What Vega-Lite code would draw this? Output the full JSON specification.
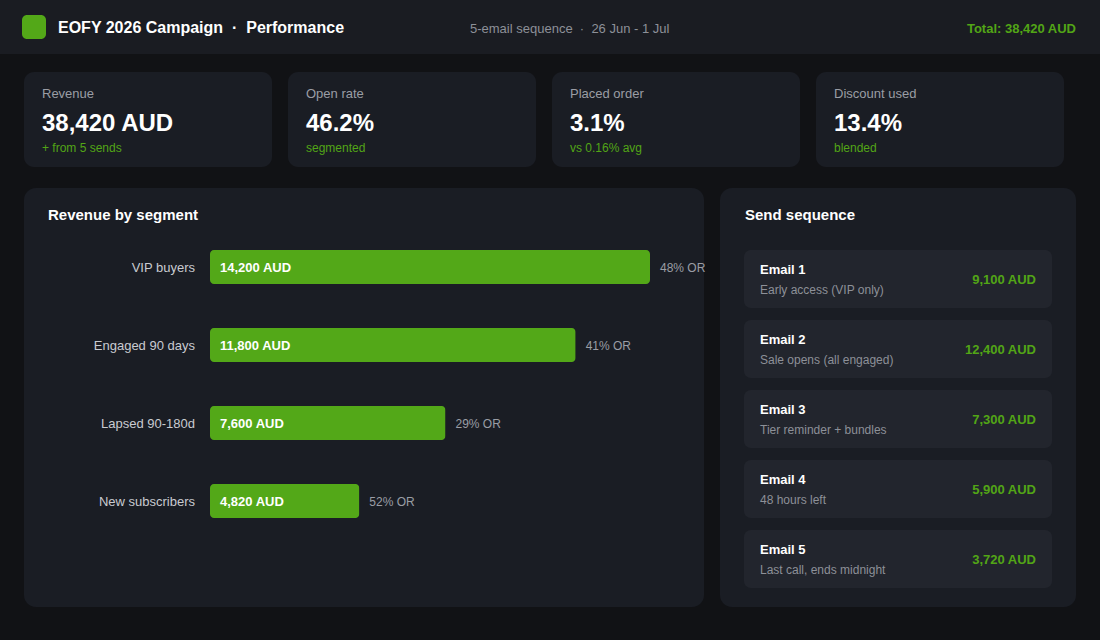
{
  "$schema": "https://vega.github.io/schema/vega-lite/v6.json",
  "background": "#111215",
  "padding": {"left": 0, "top": 0, "right": 0, "bottom": 33},
  "config": {
    "font": "Liberation Sans",
    "view": {"stroke": null}
  },
  "spacing": 18,
  "vconcat": [
    {
      "width": 1100,
      "height": 54,
      "view": {"fill": "#1a1c22", "stroke": null},
      "data": {"values": [{"title": "EOFY 2026 Campaign\u00a0\u00a0·\u00a0\u00a0Performance", "period": "5-email sequence\u00a0\u00a0·\u00a0\u00a026 Jun - 1 Jul", "total": "Total: 38,420 AUD"}]},
      "layer": [
        {
          "mark": {"type": "rect", "color": "#53a818", "cornerRadius": 5},
          "encoding": {"x": {"value": 22}, "x2": {"value": 46}, "y": {"value": 15}, "y2": {"value": 39}}
        },
        {
          "mark": {"type": "text", "align": "left", "baseline": "alphabetic", "fontSize": 16, "fontWeight": "bold", "color": "#ffffff"},
          "encoding": {"x": {"value": 58}, "y": {"value": 33}, "text": {"field": "title"}}
        },
        {
          "mark": {"type": "text", "align": "left", "baseline": "alphabetic", "fontSize": 13, "color": "#8d9098"},
          "encoding": {"x": {"value": 470}, "y": {"value": 33}, "text": {"field": "period"}}
        },
        {
          "mark": {"type": "text", "align": "right", "baseline": "alphabetic", "fontSize": 13, "fontWeight": "bold", "color": "#52a516"},
          "encoding": {"x": {"value": 1076}, "y": {"value": 33}, "text": {"field": "total"}}
        }
      ]
    },
    {
      "spacing": 21,
      "vconcat": [
        {
          "spacing": 16,
          "hconcat": [
            {"width": 8, "height": 1, "data": {"values": []}, "mark": "point", "encoding": {}},
            {
              "width": 248,
              "height": 95,
              "view": {"fill": "#1a1d24", "cornerRadius": 10, "stroke": null},
              "data": {"values": [{"label": "Revenue", "value": "38,420 AUD", "note": "+ from 5 sends"}]},
              "layer": [
                {"mark": {"type": "text", "align": "left", "baseline": "alphabetic", "fontSize": 13, "color": "#9a9da5"}, "encoding": {"x": {"value": 18}, "y": {"value": 26}, "text": {"field": "label"}}},
                {"mark": {"type": "text", "align": "left", "baseline": "alphabetic", "fontSize": 24, "fontWeight": "bold", "color": "#ffffff"}, "encoding": {"x": {"value": 18}, "y": {"value": 59}, "text": {"field": "value"}}},
                {"mark": {"type": "text", "align": "left", "baseline": "alphabetic", "fontSize": 12, "color": "#52a516"}, "encoding": {"x": {"value": 18}, "y": {"value": 80}, "text": {"field": "note"}}}
              ]
            },
            {
              "width": 248,
              "height": 95,
              "view": {"fill": "#1a1d24", "cornerRadius": 10, "stroke": null},
              "data": {"values": [{"label": "Open rate", "value": "46.2%", "note": "segmented"}]},
              "layer": [
                {"mark": {"type": "text", "align": "left", "baseline": "alphabetic", "fontSize": 13, "color": "#9a9da5"}, "encoding": {"x": {"value": 18}, "y": {"value": 26}, "text": {"field": "label"}}},
                {"mark": {"type": "text", "align": "left", "baseline": "alphabetic", "fontSize": 24, "fontWeight": "bold", "color": "#ffffff"}, "encoding": {"x": {"value": 18}, "y": {"value": 59}, "text": {"field": "value"}}},
                {"mark": {"type": "text", "align": "left", "baseline": "alphabetic", "fontSize": 12, "color": "#52a516"}, "encoding": {"x": {"value": 18}, "y": {"value": 80}, "text": {"field": "note"}}}
              ]
            },
            {
              "width": 248,
              "height": 95,
              "view": {"fill": "#1a1d24", "cornerRadius": 10, "stroke": null},
              "data": {"values": [{"label": "Placed order", "value": "3.1%", "note": "vs 0.16% avg"}]},
              "layer": [
                {"mark": {"type": "text", "align": "left", "baseline": "alphabetic", "fontSize": 13, "color": "#9a9da5"}, "encoding": {"x": {"value": 18}, "y": {"value": 26}, "text": {"field": "label"}}},
                {"mark": {"type": "text", "align": "left", "baseline": "alphabetic", "fontSize": 24, "fontWeight": "bold", "color": "#ffffff"}, "encoding": {"x": {"value": 18}, "y": {"value": 59}, "text": {"field": "value"}}},
                {"mark": {"type": "text", "align": "left", "baseline": "alphabetic", "fontSize": 12, "color": "#52a516"}, "encoding": {"x": {"value": 18}, "y": {"value": 80}, "text": {"field": "note"}}}
              ]
            },
            {
              "width": 248,
              "height": 95,
              "view": {"fill": "#1a1d24", "cornerRadius": 10, "stroke": null},
              "data": {"values": [{"label": "Discount used", "value": "13.4%", "note": "blended"}]},
              "layer": [
                {"mark": {"type": "text", "align": "left", "baseline": "alphabetic", "fontSize": 13, "color": "#9a9da5"}, "encoding": {"x": {"value": 18}, "y": {"value": 26}, "text": {"field": "label"}}},
                {"mark": {"type": "text", "align": "left", "baseline": "alphabetic", "fontSize": 24, "fontWeight": "bold", "color": "#ffffff"}, "encoding": {"x": {"value": 18}, "y": {"value": 59}, "text": {"field": "value"}}},
                {"mark": {"type": "text", "align": "left", "baseline": "alphabetic", "fontSize": 12, "color": "#52a516"}, "encoding": {"x": {"value": 18}, "y": {"value": 80}, "text": {"field": "note"}}}
              ]
            }
          ]
        },
        {
          "spacing": 16,
          "bounds": "flush",
          "hconcat": [
            {"width": 8, "height": 1, "data": {"values": []}, "mark": "point", "encoding": {}},
            {
              "width": 680,
              "height": 419,
              "view": {"fill": "#1a1d24", "cornerRadius": 12, "stroke": null},
              "data": {"values": [
                {"segment": "VIP buyers", "revenue": 14200, "label": "14,200 AUD", "open_rate": "48% OR"},
                {"segment": "Engaged 90 days", "revenue": 11800, "label": "11,800 AUD", "open_rate": "41% OR"},
                {"segment": "Lapsed 90-180d", "revenue": 7600, "label": "7,600 AUD", "open_rate": "29% OR"},
                {"segment": "New subscribers", "revenue": 4820, "label": "4,820 AUD", "open_rate": "52% OR"}
              ]},
              "encoding": {
                "y": {
                  "field": "segment",
                  "type": "nominal",
                  "axis": null,
                  "scale": {
                    "domain": ["VIP buyers", "Engaged 90 days", "Lapsed 90-180d", "New subscribers"],
                    "range": [40, 352],
                    "paddingInner": 0.564,
                    "paddingOuter": 0.282
                  }
                }
              },
              "layer": [
                {
                  "data": {"values": [{"heading": "Revenue by segment"}]},
                  "mark": {"type": "text", "align": "left", "baseline": "alphabetic", "fontSize": 15, "fontWeight": "bold", "color": "#ffffff"},
                  "encoding": {"x": {"value": 24}, "y": {"value": 32}, "text": {"field": "heading"}}
                },
                {
                  "mark": {"type": "bar", "color": "#53a818", "cornerRadius": 4},
                  "encoding": {
                    "x": {"field": "revenue", "type": "quantitative", "axis": null, "scale": {"domain": [0, 14200], "range": [186, 626], "nice": false}}
                  }
                },
                {
                  "mark": {"type": "text", "align": "right", "baseline": "middle", "dx": -15, "dy": 1, "fontSize": 13, "color": "#c9cbd1"},
                  "encoding": {"x": {"datum": 0, "type": "quantitative"}, "text": {"field": "segment"}}
                },
                {
                  "mark": {"type": "text", "align": "left", "baseline": "middle", "dx": 10, "dy": 1, "fontSize": 13, "fontWeight": "bold", "color": "#ffffff"},
                  "encoding": {"x": {"datum": 0, "type": "quantitative"}, "text": {"field": "label"}}
                },
                {
                  "mark": {"type": "text", "align": "left", "baseline": "middle", "dx": 10, "dy": 1, "fontSize": 12, "color": "#9a9da5"},
                  "encoding": {"x": {"field": "revenue", "type": "quantitative"}, "text": {"field": "open_rate"}}
                }
              ]
            },
            {
              "width": 356,
              "height": 419,
              "view": {"fill": "#1a1d24", "cornerRadius": 12, "stroke": null},
              "data": {"values": [
                {"email": "Email 1", "description": "Early access (VIP only)", "revenue": 9100, "label": "9,100 AUD"},
                {"email": "Email 2", "description": "Sale opens (all engaged)", "revenue": 12400, "label": "12,400 AUD"},
                {"email": "Email 3", "description": "Tier reminder + bundles", "revenue": 7300, "label": "7,300 AUD"},
                {"email": "Email 4", "description": "48 hours left", "revenue": 5900, "label": "5,900 AUD"},
                {"email": "Email 5", "description": "Last call, ends midnight", "revenue": 3720, "label": "3,720 AUD"}
              ]},
              "encoding": {
                "y": {
                  "field": "email",
                  "type": "nominal",
                  "axis": null,
                  "scale": {"range": [62, 400], "paddingInner": 0.1714, "paddingOuter": 0}
                }
              },
              "layer": [
                {
                  "data": {"values": [{"heading": "Send sequence"}]},
                  "mark": {"type": "text", "align": "left", "baseline": "alphabetic", "fontSize": 15, "fontWeight": "bold", "color": "#ffffff"},
                  "encoding": {"x": {"value": 25}, "y": {"value": 32}, "text": {"field": "heading"}}
                },
                {
                  "mark": {"type": "rect", "color": "#22252d", "cornerRadius": 7},
                  "encoding": {
                    "x": {"datum": 0, "type": "quantitative", "axis": null, "scale": {"domain": [0, 1], "range": [24, 332], "nice": false}},
                    "x2": {"datum": 1}
                  }
                },
                {
                  "mark": {"type": "text", "align": "left", "baseline": "middle", "dx": 16, "dy": -9, "fontSize": 13, "fontWeight": "bold", "color": "#ffffff"},
                  "encoding": {"x": {"datum": 0, "type": "quantitative"}, "text": {"field": "email"}}
                },
                {
                  "mark": {"type": "text", "align": "left", "baseline": "middle", "dx": 16, "dy": 11, "fontSize": 12, "color": "#8d9098"},
                  "encoding": {"x": {"datum": 0, "type": "quantitative"}, "text": {"field": "description"}}
                },
                {
                  "mark": {"type": "text", "align": "right", "baseline": "middle", "dx": -16, "dy": 1, "fontSize": 13, "fontWeight": "bold", "color": "#52a516"},
                  "encoding": {"x": {"datum": 1, "type": "quantitative"}, "text": {"field": "label"}}
                }
              ]
            }
          ]
        }
      ]
    }
  ]
}
